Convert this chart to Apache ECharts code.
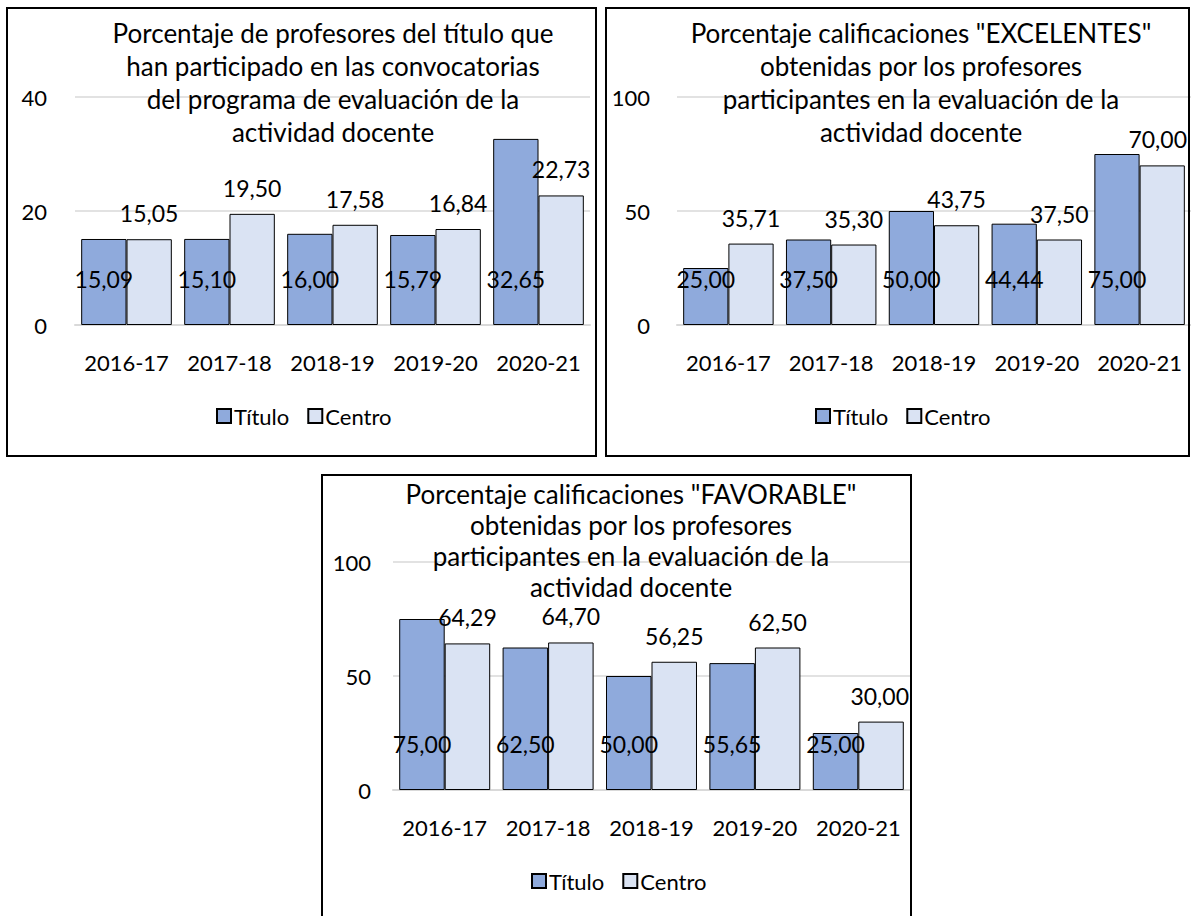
<!DOCTYPE html>
<html><head><meta charset="utf-8">
<script src="https://cdn.jsdelivr.net/npm/echarts@6/dist/echarts.min.js"></script>
<style>html,body{margin:0;padding:0;background:#fff;}#c{width:1191px;height:916px;}</style>
</head><body><div id="c"></div>
<script>
const categories = ['2016-17', '2017-18', '2018-19', '2019-20', '2020-21'];
const seriesNames = ['Título', 'Centro'];
const participTitulo = [15.09, 15.10, 16.00, 15.79, 32.65];
const participCentro = [15.05, 19.50, 17.58, 16.84, 22.73];
const excelTitulo = [25.00, 37.50, 50.00, 44.44, 75.00];
const excelCentro = [35.71, 35.30, 43.75, 37.50, 70.00];
const favorTitulo = [75.00, 62.50, 50.00, 55.65, 25.00];
const favorCentro = [64.29, 64.70, 56.25, 62.50, 30.00];
const title1 = ['Porcentaje de profesores del título que', 'han participado en las convocatorias', 'del programa de evaluación de la', 'actividad docente'];
const title2 = ['Porcentaje calificaciones "EXCELENTES"', 'obtenidas por los profesores', 'participantes en la evaluación de la', 'actividad docente'];
const title3 = ['Porcentaje calificaciones "FAVORABLE"', 'obtenidas por los profesores', 'participantes en la evaluación de la', 'actividad docente'];

const FONT = 'Lato';
const TXT = '#000';
const C_TIT = '#8FAADC';
const C_CEN = '#DAE3F3';
const fmt = p => p.value.toFixed(2).replace('.', ',');

const panels = [
  { title: title1, tit: participTitulo, cen: participCentro, max: 40, interval: 20,
    grid: { left: 75, top: 97, width: 515, height: 228 }, yMargin: 28,
    titleX: 333, titleY: 16, titleLH: 33, legendX: 216, legendY: 405, box: [7, 8, 589, 448] },
  { title: title2, tit: excelTitulo, cen: excelCentro, max: 100, interval: 50,
    grid: { left: 677, top: 97, width: 515, height: 228 }, yMargin: 27,
    titleX: 921, titleY: 16, titleLH: 33, legendX: 815, legendY: 405, box: [606, 8, 583, 448] },
  { title: title3, tit: favorTitulo, cen: favorCentro, max: 100, interval: 50,
    grid: { left: 393, top: 562, width: 517, height: 228 }, yMargin: 22,
    titleX: 631, titleY: 478, titleLH: 31, legendX: 531, legendY: 870, box: [322, 475, 589, 470] }
];

const option = {
  animation: false,
  backgroundColor: '#fff',
  textStyle: { fontFamily: FONT, color: TXT },
  title: [], legend: [], grid: [], xAxis: [], yAxis: [], series: [], graphic: []
};

panels.forEach((p, i) => {
  const boxRight = p.box[0] + p.box[2] - 2;
  const layoutWith = dy => params => {
    const r = params.labelRect;
    const over = r.x + r.width - boxRight;
    return { dx: over > 0 ? -over : 0, dy: dy };
  };
  option.graphic.push({
    type: 'rect', shape: { x: p.box[0], y: p.box[1], width: p.box[2], height: p.box[3] },
    style: { fill: 'none', stroke: '#000', lineWidth: 2 }, z: 100
  });
  option.title.push({
    text: p.title.join('\n'), left: p.titleX, top: p.titleY, textAlign: 'center', padding: 0,
    textStyle: { fontFamily: FONT, fontSize: 26, fontWeight: 'normal', color: TXT, lineHeight: p.titleLH }
  });
  option.legend.push({
    data: seriesNames.map(n => ({ name: n })),
    left: p.legendX, top: p.legendY, padding: 0, itemGap: 18, itemWidth: 14, itemHeight: 14,
    icon: 'rect', selectedMode: false,
    textStyle: { fontFamily: FONT, fontSize: 22, color: TXT, padding: [0, 0, 0, -2] }
  });
  option.grid.push(Object.assign({ containLabel: false }, p.grid));
  option.xAxis.push({
    type: 'category', gridIndex: i, data: categories,
    axisLine: { show: true, lineStyle: { color: '#d9d9d9', width: 2 } },
    axisTick: { show: false },
    axisLabel: { interval: 0, fontFamily: FONT, fontSize: 22, color: TXT, margin: 26 }
  });
  option.yAxis.push({
    type: 'value', gridIndex: i, min: 0, max: p.max, interval: p.interval,
    axisLine: { show: false }, axisTick: { show: false },
    splitLine: { lineStyle: { color: '#d9d9d9', width: 1.5 } },
    axisLabel: { fontFamily: FONT, fontSize: 22, color: TXT, margin: p.yMargin }
  });
  option.series.push({
    name: seriesNames[0], type: 'bar', xAxisIndex: i, yAxisIndex: i, data: p.tit,
    barGap: '0%', barCategoryGap: '12%',
    itemStyle: { color: C_TIT, borderColor: '#000', borderWidth: 1 },
    label: { show: true, position: ['50%', '100%'], align: 'center', verticalAlign: 'middle',
      formatter: fmt, fontFamily: FONT, fontSize: 23, color: TXT },
    labelLayout: layoutWith(-46)
  });
  option.series.push({
    name: seriesNames[1], type: 'bar', xAxisIndex: i, yAxisIndex: i, data: p.cen,
    barGap: '0%', barCategoryGap: '12%',
    itemStyle: { color: C_CEN, borderColor: '#000', borderWidth: 1 },
    label: { show: true, position: ['50%', 0], align: 'center', verticalAlign: 'middle',
      formatter: fmt, fontFamily: FONT, fontSize: 23, color: TXT },
    labelLayout: layoutWith(-26)
  });
});

const chart = echarts.init(document.getElementById('c'), null, { renderer: 'svg' });
chart.setOption(option);
</script></body></html>
